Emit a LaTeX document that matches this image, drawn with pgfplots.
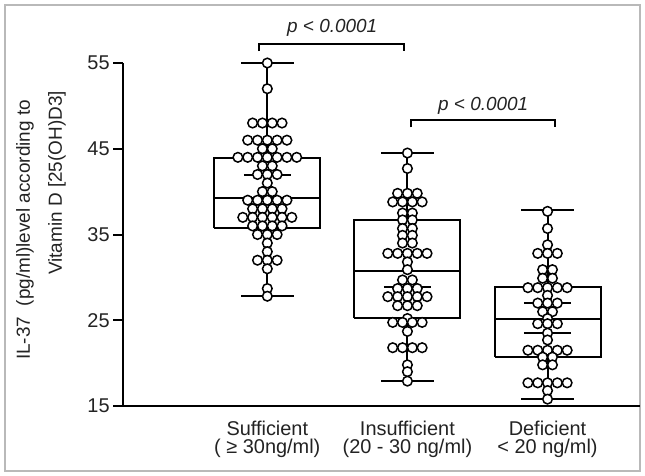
\documentclass[border=0pt]{standalone}
\usepackage{fontspec}
\setmainfont{Liberation Sans}
\usepackage{pgfplots}
\pgfplotsset{compat=1.18}
\definecolor{txt}{RGB}{35,35,35}

% box with whiskers drawn from five numbers: pos, min, q1, median, q3, max
\newcommand{\boxw}[6]{%
  \addplot[black, line width=1bp] coordinates {(#1-0.3785,#3) (#1+0.3785,#3) (#1+0.3785,#5) (#1-0.3785,#5) (#1-0.3785,#3)};
  \addplot[black, line width=1bp] coordinates {(#1-0.3785,#4) (#1+0.3785,#4)};
  \addplot[black, line width=1bp] coordinates {(#1,#5) (#1,#6)};
  \addplot[black, line width=1bp] coordinates {(#1,#3) (#1,#2)};
  \addplot[black, line width=1bp] coordinates {(#1-0.1875,#6) (#1+0.1875,#6)};
  \addplot[black, line width=1bp] coordinates {(#1-0.1875,#2) (#1+0.1875,#2)};
}

\begin{document}
\begin{tikzpicture}
\useasboundingbox (0,0) rectangle (322.5bp,238bp);
\draw[gray!55, line width=0.6bp] (2.5bp,2.5bp) rectangle (320bp,235.5bp);
\begin{axis}[
  at={(61.5bp,35bp)}, anchor=south west,
  scale only axis, width=258.5bp, height=171.5bp,
  xmin=-0.03, xmax=3.66, ymin=15, ymax=55,
  axis lines*=left,
  axis line style={line width=1.1bp, black},
  clip=false,
  ytick={15,25,35,45,55},
  xtick={1,2,3},
  xticklabels={Sufficient, Insufficient, Deficient},
  extra x ticks={1,2,3},
  extra x tick labels={( ≥ 30ng/ml), (20 - 30 ng/ml), < 20 ng/ml)},
  extra x tick style={xticklabel style={yshift=-9bp}},
  x tick style={draw=none},
  y tick style={line width=1bp, black},
  tick align=outside, major tick length=5bp,
  /pgf/number format/assume math mode=true,
  yticklabel style={font=\fontsize{10}{12}\selectfont, text=txt, inner sep=1.5bp},
  xticklabel style={font=\fontsize{10}{12}\selectfont, text=txt, yshift=1bp},
]
% boxes: Sufficient, Insufficient, Deficient
\boxw{1}{27.8}{35.8}{39.3}{43.9}{55}
\boxw{2}{17.9}{25.3}{30.7}{36.7}{44.5}
\boxw{3}{15.8}{20.7}{25.1}{28.9}{37.8}

% mean CI bars
\addplot[black, line width=1bp] coordinates {(0.832,41.9) (1.168,41.9)};
\addplot[black, line width=1bp] coordinates {(0.832,39.1) (1.168,39.1)};
\addplot[black, line width=1bp] coordinates {(1.832,33.0) (2.168,33.0)};
\addplot[black, line width=1bp] coordinates {(1.832,28.9) (2.168,28.9)};
\addplot[black, line width=1bp] coordinates {(2.832,27.0) (3.168,27.0)};
\addplot[black, line width=1bp] coordinates {(2.832,23.5) (3.168,23.5)};

% individual values
\pgfplotsset{dots/.style={only marks, mark=*, mark size=2.4bp, mark options={fill=white, draw=black, line width=0.75bp}}}
\addplot[dots] coordinates {
(1,55) (1,52)
(0.895,48) (0.965,48) (1.035,48) (1.105,48)
(0.86,46) (0.93,46) (1,46) (1.07,46) (1.14,46)
(0.965,45) (1.035,45)
(0.79,44) (0.86,44) (0.93,44) (1,44) (1.07,44) (1.14,44) (1.21,44)
(0.965,43) (1.035,43)
(0.93,42) (1,42) (1.07,42)
(1,41)
(0.965,40) (1.035,40)
(0.86,39) (0.93,39) (1,39) (1.07,39) (1.14,39)
(0.895,38) (0.965,38) (1.035,38) (1.105,38)
(0.825,37) (0.895,37) (0.965,37) (1.035,37) (1.105,37) (1.175,37)
(0.895,36) (0.965,36) (1.035,36) (1.105,36)
(0.93,35) (1,35) (1.07,35)
(1,34) (1,33)
(0.93,32) (1,32) (1.07,32)
(1,31) (1,28.7) (1,27.8)
};
\addplot[dots] coordinates {
(2,44.5) (2,42.7)
(1.93,39.8) (2,39.8) (2.07,39.8)
(1.895,38.8) (1.965,38.8) (2.035,38.8) (2.105,38.8)
(1.965,37.5) (2.035,37.5)
(1.965,36.7) (2.035,36.7)
(1.965,35.7) (2.035,35.7)
(1.965,34.9) (2.035,34.9)
(1.965,34.0) (2.035,34.0)
(1.86,32.8) (1.93,32.8) (2,32.8) (2.07,32.8) (2.14,32.8)
(2,31.8) (2,30.9)
(1.965,29.7) (2.035,29.7)
(1.93,28.7) (2,28.7) (2.07,28.7)
(1.86,27.75) (1.93,27.75) (2,27.75) (2.07,27.75) (2.14,27.75)
(1.93,26.7) (2,26.7) (2.07,26.7)
(2,25.2)
(1.895,24.75) (1.965,24.75) (2.035,24.75) (2.105,24.75)
(2,23.7)
(1.895,21.8) (1.965,21.8) (2.035,21.8) (2.105,21.8)
(2,19.8) (2,19.0) (2,17.9)
};
\addplot[dots] coordinates {
(3,37.7) (3,35.7) (3,33.8)
(2.93,32.8) (3,32.8) (3.07,32.8)
(2.965,30.9) (3.035,30.9)
(2.965,29.9) (3.035,29.9)
(2.86,28.8) (2.93,28.8) (3,28.8) (3.07,28.8) (3.14,28.8)
(3,27.9)
(2.93,27.0) (3,27.0) (3.07,27.0)
(2.965,26.0) (3.035,26.0)
(3,25.2)
(2.93,24.6) (3,24.6) (3.07,24.6)
(3,23.5) (3,22.7)
(2.86,21.5) (2.93,21.5) (3,21.5) (3.07,21.5) (3.14,21.5)
(2.965,20.7) (3.035,20.7)
(2.965,19.8) (3.035,19.8)
(2.86,17.7) (2.93,17.7) (3,17.7) (3.07,17.7) (3.14,17.7)
(3,16.8) (3,15.8)
};

% significance brackets
\draw[black, line width=1bp] (axis cs:0.941,56.4) -- (axis cs:0.941,57.2) -- (axis cs:1.972,57.2) -- (axis cs:1.972,56.4);
\node[font=\fontsize{9.5}{11}\selectfont\itshape, text=txt] at (axis cs:1.463,59.1) {p < 0.0001};
\draw[black, line width=1bp] (axis cs:2.025,47.5) -- (axis cs:2.025,48.35) -- (axis cs:3.056,48.35) -- (axis cs:3.056,47.5);
\node[font=\fontsize{9.5}{11}\selectfont\itshape, text=txt] at (axis cs:2.541,50.0) {p < 0.0001};
\end{axis}
\node[rotate=90, font=\fontsize{9.5}{11}\selectfont, text=txt] at (12.5bp,123bp) {IL-37\ \ (pg/ml)level according to};
\node[rotate=90, font=\fontsize{9.5}{11}\selectfont, text=txt] at (28.5bp,146.5bp) {Vitamin D [25(OH)D3]};
\end{tikzpicture}
\end{document}
